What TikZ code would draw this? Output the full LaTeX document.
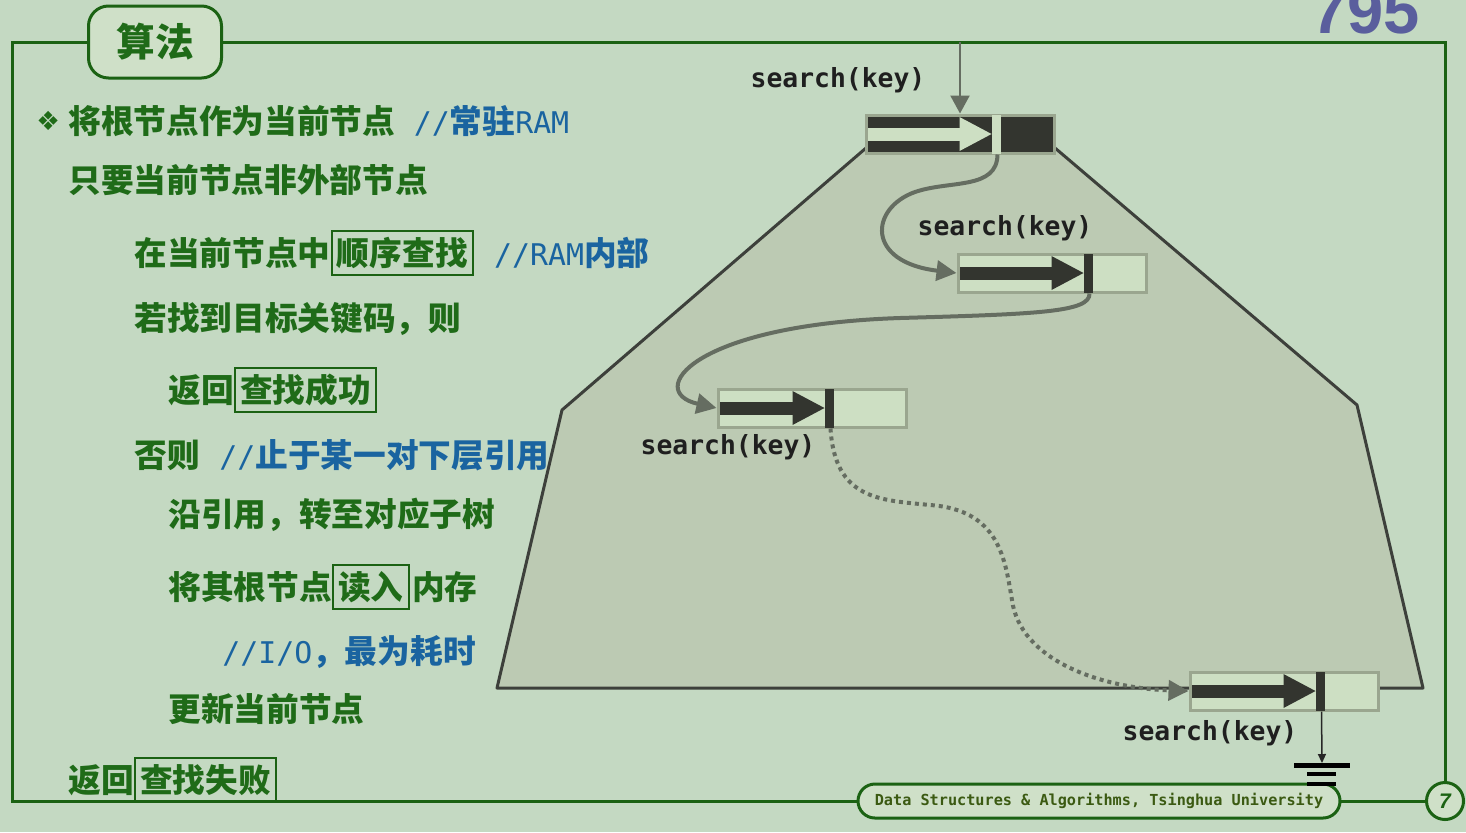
\documentclass[tikz,border=0pt]{standalone}
\usepackage{fontspec}
\usetikzlibrary{arrows.meta, positioning}
\newfontfamily\cjk{Noto Sans CJK SC}
\newfontfamily\code{DejaVu Sans Mono}
\newfontfamily\sym{DejaVu Sans}
\newfontfamily\numf{Liberation Sans}
\definecolor{bg}{HTML}{C4D9C2}
\definecolor{pale}{HTML}{CFE0C8}
\definecolor{frame}{HTML}{1B6213}
\definecolor{ink}{HTML}{1F6B18}
\definecolor{cblue}{HTML}{1A64A0}
\definecolor{numc}{HTML}{5A5E9D}
\definecolor{treefill}{HTML}{BCCAB3}
\definecolor{treeline}{HTML}{3D403B}
\definecolor{keylight}{HTML}{CDDFC3}
\definecolor{keydark}{HTML}{33352F}
\definecolor{keyedge}{HTML}{9AA68F}
\definecolor{linkc}{HTML}{656D61}
\definecolor{foottext}{HTML}{3B5A12}

% latin part of a comment
\newcommand\lat[1]{{\code\mdseries\fontsize{17}{22}\selectfont #1}}
% arrow and bar inside a key box: node, arrow colour, bar colour, bar offset
\newcommand\keyarrow[4]{%
  \fill[#2] ([shift={(3,-6.5)}]#1.west) rectangle ([shift={(#4-31,6.5)}]#1.west);
  \fill[#2] ([shift={(#4-32,-17)}]#1.west) -- ([shift={(#4,0)}]#1.west) -- ([shift={(#4-32,17)}]#1.west) -- cycle;
  \fill[#3] ([shift={(#4,-19.5)}]#1.west) rectangle ([shift={(#4+9,19.5)}]#1.west);
}

\begin{document}
\begin{tikzpicture}[
  x=0.2mm, y=-0.2mm,
  txt/.style={font=\cjk\bfseries\fontsize{18.6}{22}\selectfont, text=ink, inner sep=0pt, text height=16.4pt, text depth=2.2pt},
  cmt/.style={txt, text=cblue},
  hl/.style={txt, draw=frame, line width=0.35mm, inner xsep=3pt, inner ysep=3.4pt},
  keybox/.style={rectangle, draw=keyedge, line width=0.6mm, minimum width=37.6mm, minimum height=7.6mm, inner sep=0pt},
  cur/.style={keybox, fill=keydark},
  ext/.style={keybox, fill=keylight},
  call/.style={font=\code\bfseries\fontsize{15}{18}\selectfont, text=black!88, inner sep=0pt},
  tree/.style={fill=treefill, draw=treeline, line width=0.6mm, line join=round},
  link/.style={draw=linkc, line width=0.8mm, -{Triangle[length=4mm, width=4mm]}},
  probe/.style={link, dash pattern=on 0.8mm off 0.8mm},
  pill/.style={rectangle, rounded corners=3.4mm, draw=frame, fill=pale, line width=0.6mm, minimum width=96.4mm, minimum height=6.8mm, font=\code\bfseries\fontsize{8.65}{10}\selectfont, text=foottext},
  tab/.style={rectangle, rounded corners=4mm, draw=frame, fill=pale, line width=0.6mm, minimum width=26.6mm, minimum height=14.4mm, font=\cjk\bfseries\fontsize{22}{26}\selectfont, text=ink}
]

% Background and frame
\fill[bg] (0,0) rectangle (1466,832);
\useasboundingbox (0,0) rectangle (1466,832);
\node[font=\numf\bfseries\fontsize{37}{40}\selectfont, text=numc, inner sep=0pt, anchor=base east] (pg) at (1420,33) {795};
\draw[draw=frame, line width=0.6mm] (12,42) rectangle (1445,801);
\node[tab] (title) at (155,42) {算法};

% B-tree
\draw[tree] (497,688) -- (562,410) -- (866,148) -- (1055,148) -- (1357,405) -- (1423,688) -- cycle;

% Key boxes
\node[cur] (n1) at (960,134) {};
\keyarrow{n1}{keylight}{keylight}{127}
\node[ext] (n2) at (1052,273) {};
\keyarrow{n2}{keydark}{keydark}{127}
\node[ext] (n3) at (812,408) {};
\keyarrow{n3}{keydark}{keydark}{108}
\node[ext] (n4) at (1284,691) {};
\keyarrow{n4}{keydark}{keydark}{127}

% Search path
\coordinate (entry) at (960,42);
\draw[draw=linkc, line width=0.45mm, -{Triangle[length=3.6mm, width=3.8mm]}] (entry) -- (n1.north);
\draw[link] ([shift={(37.5,0)}]n1.south) .. controls (997,190) and (950,180) .. (915,192)
  .. controls (870,208) and (865,262) .. (n2.west);
\draw[link] ([shift={(37.5,0)}]n2.south) .. controls (1090,312) and (1040,314) .. (900,318)
  .. controls (690,325) and (645,392) .. (n3.west);
\draw[probe] ([shift={(18.5,0)}]n3.south) .. controls (835,500) and (880,500) .. (930,505)
  .. controls (1000,510) and (1005,560) .. (1012,600)
  .. controls (1020,660) and (1100,688) .. (n4.west);

\node[call] (s1) at (838,80) {search(key)};
\node[call] (s2) at (1005,228) {search(key)};
\node[call] (s3) at (728,447) {search(key)};
\node[call] (s4) at (1210,733) {search(key)};

% Algorithm text
\node[font=\sym\fontsize{15}{18}\selectfont, text=ink, inner sep=0pt, anchor=west] (bul) at (36,121) {❖};
\node[txt, anchor=west] (l1) at (68,121) {将根节点作为当前节点};
\node[cmt, right=3.6mm of l1] (c1) {\lat{//}常驻\lat{RAM}};
\node[txt, anchor=west] (l2) at (68,180) {只要当前节点非外部节点};
\node[txt, anchor=west] (l3) at (134,253) {在当前节点中};
\node[hl, right=0pt of l3] (h3) {顺序查找};
\node[cmt, right=4mm of h3] (c3) {\lat{//RAM}内部};
\node[txt, anchor=west] (l4) at (134,318) {若找到目标关键码，则};
\node[txt, anchor=west] (l5) at (168,390) {返回};
\node[hl, right=0pt of l5] (h5) {查找成功};
\node[txt, anchor=west] (l6) at (134,455) {否则};
\node[cmt, right=3.8mm of l6] (c6) {\lat{//}止于某一对下层引用};
\node[txt, anchor=west] (l7) at (168,514) {沿引用，转至对应子树};
\node[txt, anchor=west] (l8) at (168,587) {将其根节点};
\node[hl, right=0pt of l8] (h8) {读入};
\node[txt, right=0.4mm of h8] (l8b) {内存};
\node[cmt, anchor=west] (c9) at (222,651) {\lat{//I/O}，最为耗时};
\node[txt, anchor=west] (l10) at (168,709) {更新当前节点};
\node[txt, anchor=west] (l11) at (68,780) {返回};
\node[hl, right=0pt of l11] (h11) {查找失败};

% Footer
\node[pill] (foot) at (1099,801) {Data Structures \& Algorithms, Tsinghua University};
\node[circle, draw=frame, fill=pale, line width=0.6mm, minimum size=7.4mm, inner sep=0pt, font=\numf\bfseries\itshape\fontsize{12}{13}\selectfont, text=frame] (pno) at (1445,801) {7};

% External node (ground)
\coordinate (gnd) at (1322,763);
\draw[draw=black!85, line width=0.3mm, -{Triangle[length=1.8mm, width=1.6mm]}] ([shift={(37.5,0)}]n4.south) -- (gnd);
\fill[black] ([shift={(-28,0)}]gnd) rectangle ([shift={(28,5)}]gnd);
\fill[black] ([shift={(-15,9)}]gnd) rectangle ([shift={(14,13)}]gnd);
\fill[black] ([shift={(-15,19)}]gnd) rectangle ([shift={(14,23)}]gnd);

\end{tikzpicture}
\end{document}
